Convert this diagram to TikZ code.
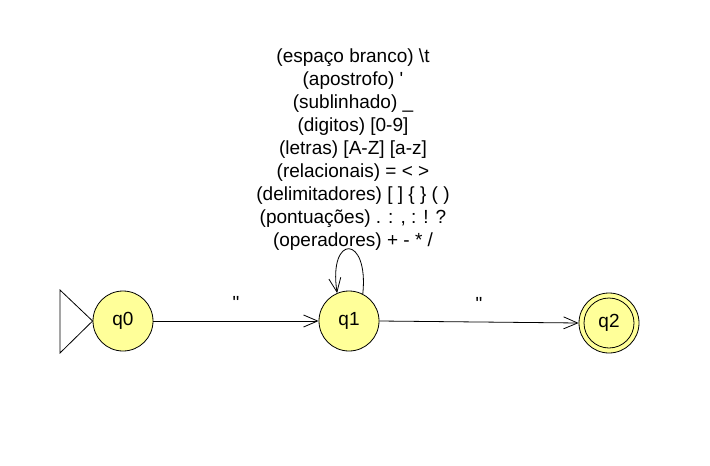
\documentclass[tikz,border=0pt]{standalone}
\usepackage{fontspec}
\setmainfont{Liberation Sans}
\usetikzlibrary{arrows.meta}

\definecolor{estado}{RGB}{255,255,153}

\tikzset{
    state/.style={circle, draw=black, thick, fill=estado, minimum size=60pt, inner sep=0pt, font=\fontsize{19}{19}\selectfont},
    trans/.style={thick, -{Straight Barb[length=14pt, width=12pt]}},
    rotulo/.style={font=\fontsize{19}{23}\selectfont}
}

\begin{document}
\begin{tikzpicture}[x=1pt, y=-1pt]

        \useasboundingbox[fill=white] (0,0) rectangle (710,466);

        % Estado inicial
        \node[state] (q0) at (123,321) {q0};
        \coordinate (t1) at (60,290);
        \coordinate (t2) at (60,353);
        \draw[thick] (t1) -- (q0.west) -- (t2) -- cycle;

        % Estado q1
        \node[state] (q1) at (349,321) {q1};

        % Estado final
        \node[state] (q2) at (609,323) {q2};
        \node[circle, draw=black, thick, minimum size=50pt] (q2i) at (q2) {};

        % Transicao q0 -> q1
        \draw[trans] (q0) -- (q1) node[midway, above=8pt, rotulo]{\textquotedbl};

        % Transicao q1 -> q2
        \draw[trans] (q1.east) -- (q2.west) node[midway, above=8pt, rotulo]{\textquotedbl};

        % Laco em q1
        \draw[trans] (q1.63) .. controls (369,234) and (328,234) .. (q1.113);

        % Rotulo do laco
        \node[rotulo, align=center, inner sep=0pt] (laco) at (353,150) {%
            (espaço branco) \textbackslash t\\
            (apostrofo) \textquotesingle\\
            (sublinhado) \_\\
            (digitos) [0-9]\\
            (letras) [A-Z] [a-z]\\
            (relacionais) = < >\\
            (delimitadores) [ ] \{ \} ( )\\
            (pontuações) . : , : ! ?\\
            (operadores) + - * /};

    \end{tikzpicture}
\end{document}
